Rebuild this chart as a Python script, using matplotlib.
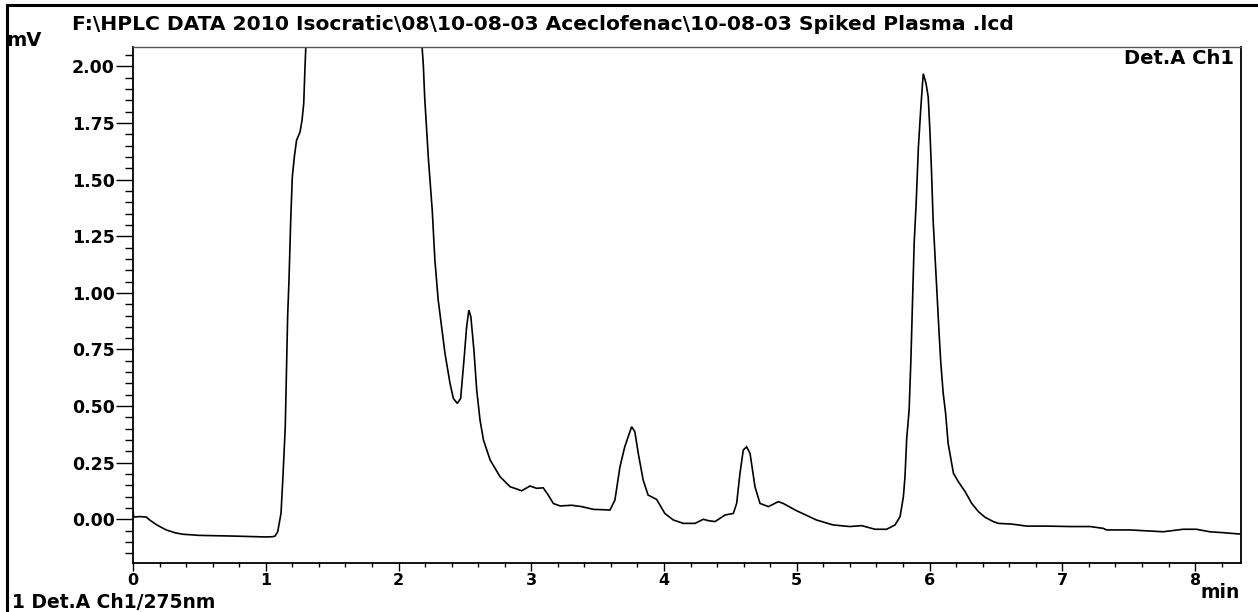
import matplotlib
matplotlib.use("Agg")
import matplotlib.pyplot as plt
from matplotlib.ticker import MultipleLocator, FormatStrFormatter
from matplotlib.lines import Line2D

# retention time (min) and detector signal (mV)
time_min = [0.0, 0.005, 0.05, 0.10, 0.13, 0.18, 0.25, 0.32, 0.375, 0.5, 0.75, 1.0, 1.05, 1.07,
            1.09, 1.115, 1.13, 1.147, 1.155, 1.165, 1.175, 1.188, 1.2, 1.215, 1.232, 1.258,
            1.273, 1.286, 1.296, 1.31, 1.4, 1.8, 2.1, 2.17, 2.187, 2.197, 2.212, 2.225,
            2.254, 2.274, 2.299, 2.325, 2.35, 2.388, 2.413, 2.443, 2.468, 2.493, 2.513, 2.53,
            2.545, 2.568, 2.589, 2.614, 2.64, 2.69, 2.765, 2.84, 2.928, 2.99, 3.04, 3.09,
            3.128, 3.166, 3.217, 3.305, 3.38, 3.467, 3.593, 3.63, 3.668, 3.704, 3.756, 3.78,
            3.806, 3.843, 3.88, 3.944, 4.006, 4.07, 4.145, 4.233, 4.296, 4.334, 4.384, 4.46,
            4.522, 4.547, 4.572, 4.597, 4.622, 4.648, 4.685, 4.723, 4.786, 4.861, 4.898,
            4.998, 5.148, 5.274, 5.4, 5.489, 5.589, 5.677, 5.74, 5.778, 5.803, 5.815, 5.828,
            5.846, 5.859, 5.871, 5.884, 5.899, 5.916, 5.933, 5.946, 5.953, 5.974, 5.99,
            6.002, 6.015, 6.027, 6.04, 6.057, 6.072, 6.085, 6.103, 6.121, 6.14, 6.158, 6.18,
            6.217, 6.268, 6.318, 6.368, 6.418, 6.48, 6.518, 6.618, 6.731, 6.882, 7.057,
            7.208, 7.309, 7.334, 7.51, 7.66, 7.76, 7.91, 8.01, 8.11, 8.21, 8.335]
signal_mv = [0.045, 0.01, 0.012, 0.01, -0.005, -0.025, -0.047, -0.06, -0.066, -0.071, -0.074,
             -0.078, -0.077, -0.074, -0.055, 0.027, 0.195, 0.41, 0.62, 0.9, 1.056, 1.321, 1.512,
             1.60, 1.674, 1.71, 1.762, 1.836, 2.005, 2.2, 3.0, 4.0, 2.8, 2.15, 2.005, 1.865,
             1.718, 1.593, 1.365, 1.144, 0.968, 0.85, 0.733, 0.60, 0.534, 0.512, 0.534, 0.703,
             0.85, 0.924, 0.894, 0.747, 0.571, 0.438, 0.35, 0.262, 0.188, 0.144, 0.126, 0.147,
             0.137, 0.139, 0.107, 0.07, 0.059, 0.062, 0.056, 0.044, 0.041, 0.085, 0.232, 0.32,
             0.409, 0.387, 0.291, 0.173, 0.107, 0.088, 0.026, -0.003, -0.018, -0.018, 0.0,
             -0.006, -0.01, 0.019, 0.026, 0.07, 0.203, 0.306, 0.32, 0.291, 0.144, 0.07, 0.056,
             0.078, 0.07, 0.038, -0.003, -0.025, -0.032, -0.028, -0.044, -0.044, -0.025, 0.012,
             0.1, 0.188, 0.357, 0.482, 0.695, 0.946, 1.218, 1.394, 1.644, 1.806, 1.917, 1.968,
             1.924, 1.865, 1.725, 1.534, 1.321, 1.174, 0.982, 0.821, 0.688, 0.556, 0.468,
             0.335, 0.276, 0.203, 0.166, 0.122, 0.07, 0.034, 0.009, -0.01, -0.018, -0.021,
             -0.03, -0.03, -0.032, -0.032, -0.04, -0.047, -0.047, -0.052, -0.055, -0.044,
             -0.044, -0.055, -0.059, -0.065]

title_text = r"F:\HPLC DATA 2010 Isocratic\08\10-08-03 Aceclofenac\10-08-03 Spiked Plasma .lcd"
channel_text = "Det.A Ch1"
footer_text = "1 Det.A Ch1/275nm"
x_ticks = [0, 1, 2, 3, 4, 5, 6, 7, 8]

W, H = 1258, 612
fig = plt.figure(figsize=(W / 100, H / 100), dpi=100)
fig.patch.set_facecolor("white")

L, R, T, B = 133, 1241, 47, 563
ax = fig.add_axes([L / W, 1 - B / H, (R - L) / W, (B - T) / H])
ax.plot(time_min, signal_mv, color="black", lw=1.2, solid_joinstyle="miter")
ax.set_xlim(0, 8.346)
ax.set_ylim(-0.193, 2.086)

ax.yaxis.set_major_locator(MultipleLocator(0.25))
ax.yaxis.set_minor_locator(MultipleLocator(0.05))
ax.yaxis.set_major_formatter(FormatStrFormatter("%.2f"))
ax.set_xticks(x_ticks)
ax.xaxis.set_minor_locator(MultipleLocator(0.2))

fp = dict(family="DejaVu Sans", weight="bold")
ax.tick_params(axis="y", which="major", direction="out", length=12, width=1.0, pad=1, labelsize=12.5)
ax.tick_params(axis="y", which="minor", direction="out", length=5.5, width=1.0)
ax.tick_params(axis="x", which="major", direction="out", length=5.5, width=1.0, pad=1.5, labelsize=11.5)
ax.tick_params(axis="x", which="minor", direction="out", length=3, width=1.0)
for lab in ax.get_xticklabels() + ax.get_yticklabels():
    lab.set_fontfamily("DejaVu Sans")
    lab.set_fontweight("bold")

for s in ["left", "bottom", "right"]:
    ax.spines[s].set_linewidth(1.3)
    ax.spines[s].set_color("black")
ax.spines["top"].set_linewidth(1.0)
ax.spines["top"].set_color("#555555")

# texts
fig.text(72 / W, 1 - 25 / H, title_text, ha="left", va="center", fontsize=14.6, **fp)
fig.text(6 / W, 1 - 40 / H, "mV", ha="left", va="center", fontsize=14, **fp)
fig.text(1234 / W, 1 - 49 / H, channel_text, ha="right", va="top", fontsize=14, **fp)
fig.text(1240 / W, 1 - 593 / H, "min", ha="right", va="center", fontsize=13.5, **fp)
fig.text(12 / W, 1 - 603 / H, footer_text, ha="left", va="center", fontsize=13.5, **fp)

# outer frame (top and left edges)
fig.add_artist(Line2D([7 / W, 1.0], [1 - 5 / H, 1 - 5 / H], transform=fig.transFigure, color="black", lw=2.2))
fig.add_artist(Line2D([7 / W, 7 / W], [0.0, 1 - 5 / H], transform=fig.transFigure, color="black", lw=2.2))

fig.savefig("out.png", dpi=100)
